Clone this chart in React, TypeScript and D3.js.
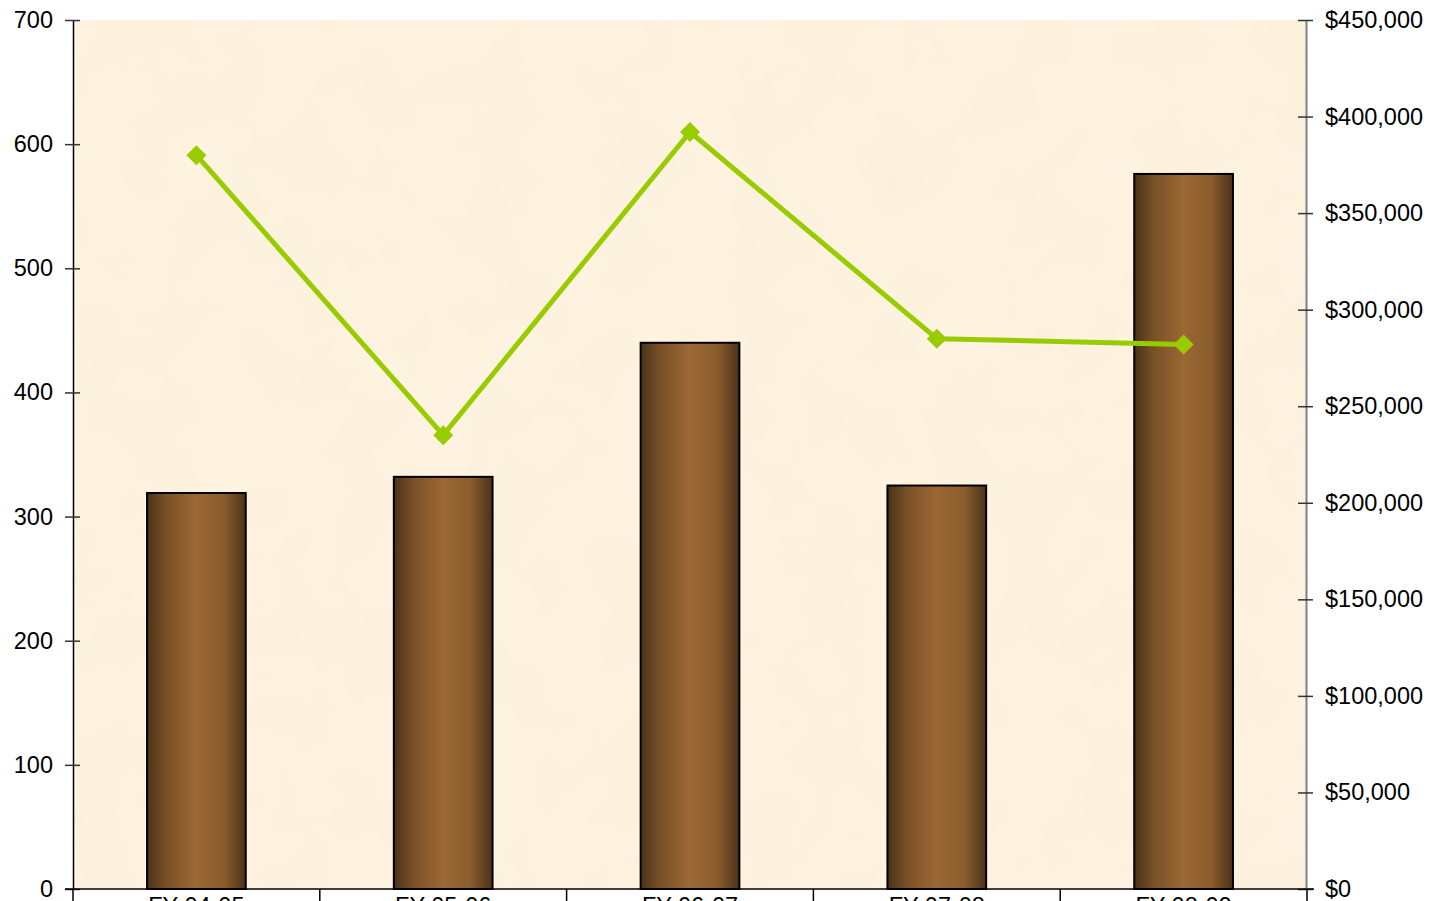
import { useEffect, useRef } from 'react';
import * as d3 from 'd3';

const categories = ['FY 04-05', 'FY 05-06', 'FY 06-07', 'FY 07-08', 'FY 08-09'];
const barValues = [319, 332, 440, 325, 576];
const lineValues = [380000, 235000, 392000, 285000, 282000];
const leftTicks = [0, 100, 200, 300, 400, 500, 600, 700];
const rightTicks = [0, 50000, 100000, 150000, 200000, 250000, 300000, 350000, 400000, 450000];

function App() {
  const ref = useRef(null);

  const svgWidth = 1443;
  const svgHeight = 901;

  useEffect(() => {
    const left = 73;
    const right = 1307;
    const top = 20;
    const bottom = 889;

    const svg = d3.select(ref.current);
    svg.selectAll('*').remove();

    // Defs: parchment texture + bar gradient
    const defs = svg.append('defs');
    const filter = defs
      .append('filter')
      .attr('id', 'parchment')
      .attr('x', 0)
      .attr('y', 0)
      .attr('width', 1)
      .attr('height', 1);
    filter
      .append('feTurbulence')
      .attr('type', 'fractalNoise')
      .attr('baseFrequency', 0.015)
      .attr('numOctaves', 3)
      .attr('seed', 4)
      .attr('result', 'noise');
    filter
      .append('feColorMatrix')
      .attr('in', 'noise')
      .attr('type', 'matrix')
      .attr('values', '0 0 0 0 0.95  0 0 0 0 0.86  0 0 0 0 0.68  0 0 0 1.1 -0.45')
      .attr('result', 'tint');
    filter
      .append('feComposite')
      .attr('in', 'tint')
      .attr('in2', 'SourceGraphic')
      .attr('operator', 'atop');

    const grad = defs
      .append('linearGradient')
      .attr('id', 'barGrad')
      .attr('x1', '0%')
      .attr('x2', '100%')
      .attr('y1', '0%')
      .attr('y2', '0%');
    grad.append('stop').attr('offset', '0%').attr('stop-color', '#4a3219');
    grad.append('stop').attr('offset', '20%').attr('stop-color', '#7a5128');
    grad.append('stop').attr('offset', '50%').attr('stop-color', '#9c6834');
    grad.append('stop').attr('offset', '78%').attr('stop-color', '#8a5c2d');
    grad.append('stop').attr('offset', '100%').attr('stop-color', '#4a3219');

    // Plot background
    svg
      .append('rect')
      .attr('x', left)
      .attr('y', top)
      .attr('width', right - left)
      .attr('height', bottom - top)
      .attr('fill', '#fdf3e0')
      .attr('filter', 'url(#parchment)');

    // Scales
    const x = d3.scaleBand().domain(categories).range([left, right]).padding(0);
    const yLeft = d3.scaleLinear().domain([0, 700]).range([bottom, top]);
    const yRight = d3.scaleLinear().domain([0, 450000]).range([bottom, top]);

    // Bars
    const barWidth = x.bandwidth() * 0.4;
    svg
      .append('g')
      .selectAll('rect')
      .data(barValues)
      .join('rect')
      .attr('x', (_, i) => (x(categories[i]) as number) + (x.bandwidth() - barWidth) / 2)
      .attr('y', (d) => yLeft(d))
      .attr('width', barWidth)
      .attr('height', (d) => yLeft(0) - yLeft(d))
      .attr('fill', 'url(#barGrad)')
      .attr('stroke', '#000')
      .attr('stroke-width', 2);

    const font = 'Liberation Sans, Arial, sans-serif';
    const fontSize = 23.5;

    // Left axis
    const leftAxis = svg
      .append('g')
      .attr('transform', `translate(${left}, 0)`)
      .call(d3.axisLeft(yLeft).tickValues(leftTicks).tickSize(0).tickPadding(20).tickSizeOuter(0));
    leftAxis.select('.domain').attr('stroke', '#000').attr('stroke-width', 1.5);
    leftAxis
      .selectAll('.tick line')
      .attr('x1', -8)
      .attr('x2', 7)
      .attr('stroke', '#333')
      .attr('stroke-width', 1.5);
    leftAxis
      .selectAll('.tick text')
      .attr('font-family', font)
      .attr('font-size', fontSize)
      .attr('fill', '#000');

    // Right axis
    const rightAxis = svg
      .append('g')
      .attr('transform', `translate(${right - 1}, 0)`)
      .call(
        d3
          .axisRight(yRight)
          .tickValues(rightTicks)
          .tickSize(0)
          .tickPadding(19)
          .tickSizeOuter(0)
          .tickFormat((d) => '$' + d3.format(',')(d as number))
      );
    rightAxis.select('.domain').attr('stroke', '#808080').attr('stroke-width', 2);
    rightAxis
      .selectAll('.tick line')
      .attr('x1', -8)
      .attr('x2', 7)
      .attr('stroke', '#333')
      .attr('stroke-width', 1.5);
    rightAxis
      .selectAll('.tick text')
      .attr('font-family', font)
      .attr('font-size', fontSize)
      .attr('fill', '#000');

    // Bottom axis
    const bottomAxis = svg.append('g');
    bottomAxis
      .append('line')
      .attr('x1', left - 8)
      .attr('x2', right + 7)
      .attr('y1', bottom)
      .attr('y2', bottom)
      .attr('stroke', '#000')
      .attr('stroke-width', 1.5);
    const edges = categories.map((c) => x(c) as number).concat([right]);
    bottomAxis
      .selectAll('line.sep')
      .data(edges)
      .join('line')
      .attr('class', 'sep')
      .attr('x1', (d) => d)
      .attr('x2', (d) => d)
      .attr('y1', bottom)
      .attr('y2', svgHeight)
      .attr('stroke', '#000')
      .attr('stroke-width', 1.5);
    bottomAxis
      .selectAll('text')
      .data(categories)
      .join('text')
      .attr('x', (d) => (x(d) as number) + x.bandwidth() / 2)
      .attr('y', 914)
      .attr('text-anchor', 'middle')
      .attr('font-family', font)
      .attr('font-size', fontSize)
      .text((d) => d);

    // Line series
    const cx = (i: number) => (x(categories[i]) as number) + x.bandwidth() / 2;
    const line = d3
      .line<number>()
      .x((_, i) => cx(i))
      .y((d) => yRight(d));
    svg
      .append('path')
      .datum(lineValues)
      .attr('d', line)
      .attr('fill', 'none')
      .attr('stroke', '#99cc00')
      .attr('stroke-width', 5)
      .attr('stroke-linejoin', 'round');
    svg
      .append('g')
      .selectAll('path')
      .data(lineValues)
      .join('path')
      .attr('d', d3.symbol(d3.symbolSquare, 200))
      .attr('transform', (d, i) => `translate(${cx(i)}, ${yRight(d)}) rotate(45)`)
      .attr('fill', '#99cc00');
  }, []);

  return (
    <svg
      ref={ref}
      width={svgWidth}
      height={svgHeight}
      style={{ position: 'absolute', left: 0, top: 0, background: '#fff' }}
    ></svg>
  );
}

export default App;
